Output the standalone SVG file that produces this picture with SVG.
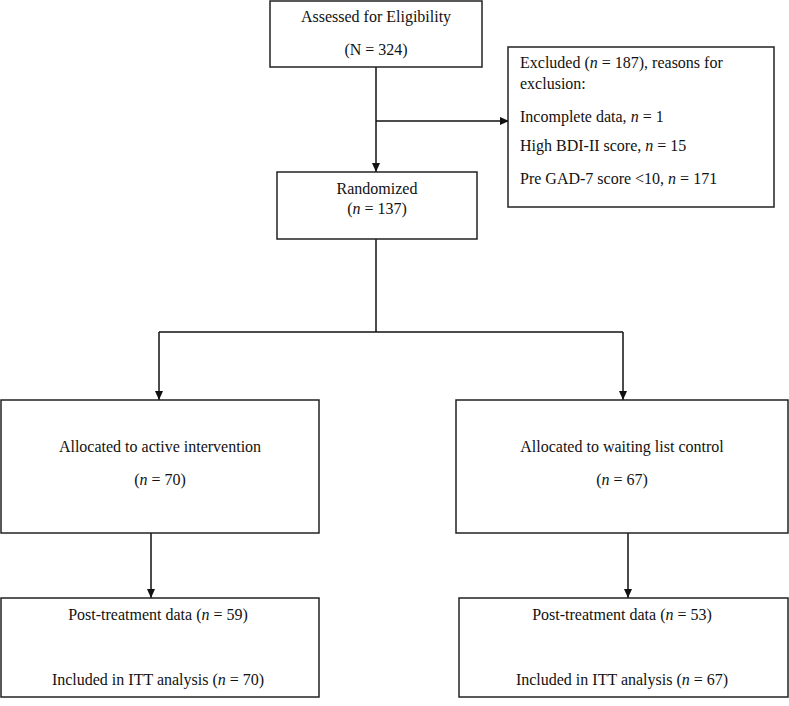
<svg xmlns="http://www.w3.org/2000/svg" width="789" height="706" viewBox="0 0 789 706">
<style>
.box{fill:#fff;stroke:#222;stroke-width:1.5}
.ln{fill:none;stroke:#111;stroke-width:1.5}
text{font-family:"Liberation Serif","Times New Roman",serif;font-size:16px;fill:#111}
.c{text-anchor:middle}
</style>
<defs>
<marker id="ah" markerWidth="10" markerHeight="10" refX="9" refY="5" orient="auto" markerUnits="userSpaceOnUse">
<path d="M0,1 L9,5 L0,9 Z" fill="#111"/>
</marker>
</defs>
<rect width="789" height="706" fill="#fff"/>
<g id="connectors">
<line class="ln" x1="376" y1="67" x2="376" y2="172" marker-end="url(#ah)"/>
<line class="ln" x1="376" y1="121" x2="509" y2="121" marker-end="url(#ah)"/>
<line class="ln" x1="376" y1="239" x2="376" y2="332"/>
<line class="ln" x1="159" y1="332" x2="623" y2="332"/>
<line class="ln" x1="159" y1="332" x2="159" y2="400" marker-end="url(#ah)"/>
<line class="ln" x1="623" y1="332" x2="623" y2="400" marker-end="url(#ah)"/>
<line class="ln" x1="151" y1="533" x2="151" y2="598" marker-end="url(#ah)"/>
<line class="ln" x1="628" y1="533" x2="628" y2="598" marker-end="url(#ah)"/>
</g>
<g id="n1">
<rect class="box" x="270" y="1" width="212" height="66"/>
<text class="c" x="376" y="22">Assessed for Eligibility</text>
<text class="c" x="376" y="55">(N = 324)</text>
</g>
<g id="n2">
<rect class="box" x="508" y="47" width="266" height="160"/>
<text x="520" y="68">Excluded (<tspan font-style="italic">n</tspan> = 187), reasons for</text>
<text x="520" y="89">exclusion:</text>
<text x="520" y="122">Incomplete data, <tspan font-style="italic">n</tspan> = 1</text>
<text x="520" y="151">High BDI-II score, <tspan font-style="italic">n</tspan> = 15</text>
<text x="520" y="184">Pre GAD-7 score &lt;10, <tspan font-style="italic">n</tspan> = 171</text>
</g>
<g id="n3">
<rect class="box" x="277" y="172" width="200" height="67"/>
<text class="c" x="377" y="194">Randomized</text>
<text class="c" x="377" y="214">(<tspan font-style="italic">n</tspan> = 137)</text>
</g>
<g id="n4">
<rect class="box" x="1" y="400" width="318" height="133"/>
<text class="c" x="160" y="452">Allocated to active intervention</text>
<text class="c" x="160" y="485">(<tspan font-style="italic">n</tspan> = 70)</text>
</g>
<g id="n5">
<rect class="box" x="456" y="400" width="332" height="133"/>
<text class="c" x="622" y="452">Allocated to waiting list control</text>
<text class="c" x="622" y="485">(<tspan font-style="italic">n</tspan> = 67)</text>
</g>
<g id="n6">
<rect class="box" x="1" y="598" width="318" height="99"/>
<text class="c" x="158" y="620">Post-treatment data (<tspan font-style="italic">n</tspan> = 59)</text>
<text class="c" x="158" y="685">Included in ITT analysis (<tspan font-style="italic">n</tspan> = 70)</text>
</g>
<g id="n7">
<rect class="box" x="459" y="598" width="329" height="99"/>
<text class="c" x="622" y="620">Post-treatment data (<tspan font-style="italic">n</tspan> = 53)</text>
<text class="c" x="622" y="685">Included in ITT analysis (<tspan font-style="italic">n</tspan> = 67)</text>
</g>
</svg>
